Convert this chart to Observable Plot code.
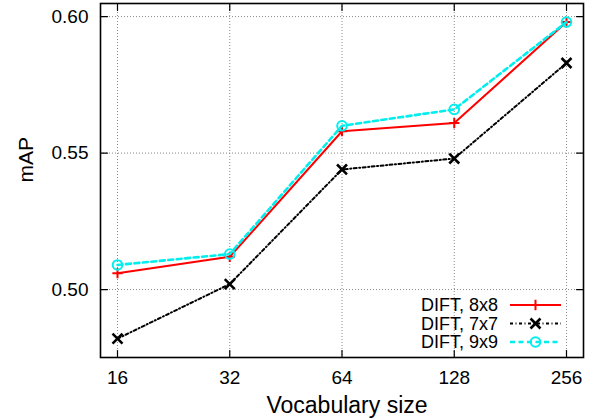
<!DOCTYPE html>
<html>
<head>
<meta charset="utf-8">
<script src="https://cdn.jsdelivr.net/npm/d3@7"></script>
<script src="https://cdn.jsdelivr.net/npm/@observablehq/plot@0.6"></script>
<style>
  html, body { margin: 0; padding: 0; background: #fff; }
  #wrap { position: relative; width: 600px; height: 418px; }
  #wrap svg { display: block; }
  #legend { position: absolute; left: 0; top: 0; }
</style>
</head>
<body>
<div id="wrap"></div>
<script>
// ---- data ----
const vocabSizes = [16, 32, 64, 128, 256];
const dift8x8 = [0.506, 0.512, 0.558, 0.561, 0.598];
const dift7x7 = [0.482, 0.502, 0.544, 0.548, 0.583];
const dift9x9 = [0.509, 0.513, 0.560, 0.566, 0.598];
const yTickValues = [0.50, 0.55, 0.60];
const seriesNames = ["DIFT, 8x8", "DIFT, 7x7", "DIFT, 9x9"];
const xLabel = "Vocabulary size";
const yLabel = "mAP";

const font = "'Liberation Sans', Arial, Helvetica, sans-serif";
const styles = [
  {color: "#ff0000", dash: null, width: 2, symbol: "plus", r: 3.4, sw: 2},
  {color: "#000000", dash: "3,2.5,1,2.5", width: 2, symbol: "times", r: 4.6, sw: 2.6},
  {color: "#00eeee", dash: "5,3.5", width: 2.6, symbol: "circle", r: 4.8, sw: 2}
];
const seriesValues = [dift8x8, dift7x7, dift9x9];
const rows = seriesValues.map(vals => vocabSizes.map((v, i) => ({x: v, y: vals[i]})));

const tickShape = {draw(ctx, l) { ctx.moveTo(0, 0); ctx.lineTo(0, -l); }};
const gridStyle = {stroke: "#8a8a8a", strokeWidth: 1, strokeDasharray: "1,2"};

const seriesMarks = rows.flatMap((data, k) => {
  const s = styles[k];
  return [
    Plot.line(data, {x: "x", y: "y", stroke: s.color, strokeWidth: s.width, strokeDasharray: s.dash, strokeLinejoin: "miter"}),
    Plot.dot(data, {x: "x", y: "y", symbol: s.symbol, r: s.r, stroke: s.color, strokeWidth: s.sw, fill: "none"})
  ];
});

const chart = Plot.plot({
  width: 600,
  height: 418,
  marginLeft: 100,
  marginRight: 17,
  marginTop: 3,
  marginBottom: 61,
  style: {fontFamily: font, background: "#fff", color: "#000"},
  x: {type: "log", base: 2, domain: [16, 256], inset: 17},
  y: {domain: [0.4751, 0.6048]},
  marks: [
    Plot.ruleX(vocabSizes, {x: d => d, ...gridStyle}),
    Plot.ruleY(yTickValues, {y: d => d, ...gridStyle}),
    Plot.vector(yTickValues, {y: d => d, frameAnchor: "left", rotate: 90, length: 7, anchor: "start", shape: tickShape, stroke: "#000", strokeWidth: 1.2}),
    Plot.vector(yTickValues, {y: d => d, frameAnchor: "right", rotate: -90, length: 7, anchor: "start", shape: tickShape, stroke: "#000", strokeWidth: 1.2}),
    Plot.vector(vocabSizes, {x: d => d, frameAnchor: "bottom", rotate: 0, length: 7, anchor: "start", shape: tickShape, stroke: "#000", strokeWidth: 1.2}),
    Plot.vector(vocabSizes, {x: d => d, frameAnchor: "top", rotate: 180, length: 7, anchor: "start", shape: tickShape, stroke: "#000", strokeWidth: 1.2}),
    Plot.axisX({ticks: vocabSizes, tickFormat: d => String(d), tickSize: 0, tickPadding: 13, fontSize: 19, label: null}),
    Plot.axisY({ticks: yTickValues, tickFormat: d3.format(".2f"), tickSize: 0, tickPadding: 12, fontSize: 19, label: null}),
    ...seriesMarks,
    Plot.frame({stroke: "#000", strokeWidth: 1.6}),
    Plot.text([xLabel], {text: d => d, frameAnchor: "bottom", dy: 55, dx: 5, lineAnchor: "bottom", fontSize: 23}),
    Plot.text([yLabel], {text: d => d, frameAnchor: "left", rotate: -90, dx: -74, dy: 2, fontSize: 21})
  ]
});

const wrap = document.getElementById("wrap");
wrap.appendChild(chart);

// ---- legend (inside plot area, bottom right) ----
const leg = d3.select(wrap).append("svg")
  .attr("id", "legend").attr("width", 600).attr("height", 418)
  .style("font-family", font);
const legTextX = 498, legLineX1 = 510, legLineX2 = 561, legY0 = 305, legDy = 18.5;
seriesNames.forEach((name, k) => {
  const s = styles[k];
  const y = legY0 + k * legDy;
  leg.append("text").attr("x", legTextX).attr("y", y).attr("dy", "0.35em")
    .attr("text-anchor", "end").attr("font-size", 18).attr("fill", "#000").text(name);
  leg.append("line").attr("x1", legLineX1).attr("x2", legLineX2).attr("y1", y).attr("y2", y)
    .attr("stroke", s.color).attr("stroke-width", s.width)
    .attr("stroke-dasharray", s.dash);
  const sym = {plus: d3.symbolPlus, times: d3.symbolTimes, circle: d3.symbolCircle}[s.symbol];
  leg.append("path").attr("d", d3.symbol(sym, Math.PI * s.r * s.r)())
    .attr("transform", `translate(${(legLineX1 + legLineX2) / 2},${y})`)
    .attr("fill", "none").attr("stroke", s.color).attr("stroke-width", s.sw);
});
</script>
</body>
</html>
